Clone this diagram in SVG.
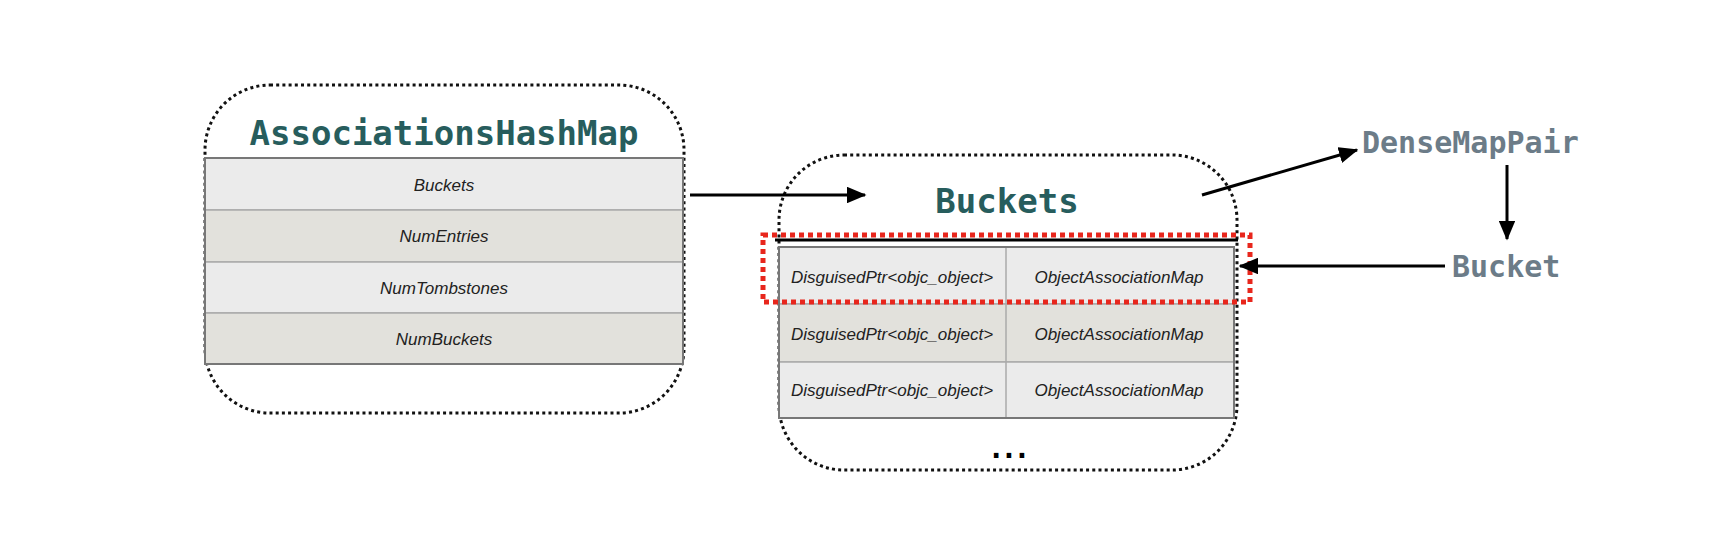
<svg xmlns="http://www.w3.org/2000/svg" width="1728" height="538" viewBox="0 0 1728 538">
<defs>
<style>
.dotbox{fill:none;stroke:#111;stroke-width:3;stroke-dasharray:3 3.2}
.title{font-family:"DejaVu Sans Mono",monospace;font-weight:bold;font-size:34px;fill:#275d5d}
.side{font-family:"DejaVu Sans Mono",monospace;font-weight:bold;font-size:30px;fill:#6c7c88}
.cell{font-family:"Liberation Sans",Arial,sans-serif;font-style:italic;font-size:17px;fill:#222;text-anchor:middle}
.rowA{fill:#ebebeb;stroke:#aaa;stroke-width:1.5}
.rowB{fill:#e2e1dc;stroke:#aaa;stroke-width:1.5}
.conn{stroke:#000;stroke-width:3;fill:none}
</style>
<marker id="ah" markerWidth="6.5" markerHeight="5.5" refX="6" refY="2.75" orient="auto" markerUnits="strokeWidth">
<path d="M0,0 L6.5,2.75 L0,5.5 Z" fill="#000"/>
</marker>
</defs>
<rect width="1728" height="538" fill="#fff"/>

<g id="associationsHashMap">
<rect class="dotbox" x="205" y="85" width="479" height="328" rx="65"/>
<text class="title" x="444" y="145" text-anchor="middle">AssociationsHashMap</text>
<rect class="rowA" x="205" y="158" width="478" height="52"/>
<rect class="rowB" x="205" y="210" width="478" height="52"/>
<rect class="rowA" x="205" y="262" width="478" height="51"/>
<rect class="rowB" x="205" y="313" width="478" height="51"/>
<rect x="205" y="158" width="478" height="206" fill="none" stroke="#777" stroke-width="2"/>
<text class="cell" x="444" y="191">Buckets</text>
<text class="cell" x="444" y="242">NumEntries</text>
<text class="cell" x="444" y="294">NumTombstones</text>
<text class="cell" x="444" y="345">NumBuckets</text>
</g>

<g id="buckets">
<rect class="dotbox" x="779" y="155" width="458" height="315" rx="65"/>
<text class="title" x="1007" y="213" text-anchor="middle">Buckets</text>
<line x1="775" y1="240" x2="1238" y2="240" stroke="#000" stroke-width="3"/>
<rect class="rowA" x="779" y="247" width="455" height="57"/>
<rect class="rowB" x="779" y="304" width="455" height="58"/>
<rect class="rowA" x="779" y="362" width="455" height="56"/>
<line x1="1006" y1="247" x2="1006" y2="418" stroke="#aaa" stroke-width="1.5"/>
<rect x="779" y="247" width="455" height="171" fill="none" stroke="#777" stroke-width="2"/>
<text class="cell" x="892" y="283">DisguisedPtr&lt;objc_object&gt;</text>
<text class="cell" x="1119" y="283">ObjectAssociationMap</text>
<text class="cell" x="892" y="340">DisguisedPtr&lt;objc_object&gt;</text>
<text class="cell" x="1119" y="340">ObjectAssociationMap</text>
<text class="cell" x="892" y="396">DisguisedPtr&lt;objc_object&gt;</text>
<text class="cell" x="1119" y="396">ObjectAssociationMap</text>
<text x="1007" y="458" text-anchor="middle" font-family="DejaVu Sans Mono,monospace" font-weight="bold" font-size="28" letter-spacing="-4" fill="#000">...</text>
<rect x="763" y="235" width="487" height="67" fill="none" stroke="#e8261c" stroke-width="5" stroke-dasharray="5 4"/>
</g>

<g id="denseMapPair">
<text class="side" x="1362" y="153">DenseMapPair</text>
</g>

<g id="bucket">
<text class="side" x="1452" y="277">Bucket</text>
</g>

<g id="connectors">
<line class="conn" x1="690" y1="195" x2="865" y2="195" marker-end="url(#ah)"/>
<line class="conn" x1="1202" y1="195" x2="1357" y2="150" marker-end="url(#ah)"/>
<line class="conn" x1="1507" y1="165" x2="1507" y2="239" marker-end="url(#ah)"/>
<line class="conn" x1="1445" y1="266" x2="1240" y2="266" marker-end="url(#ah)"/>
</g>
</svg>
